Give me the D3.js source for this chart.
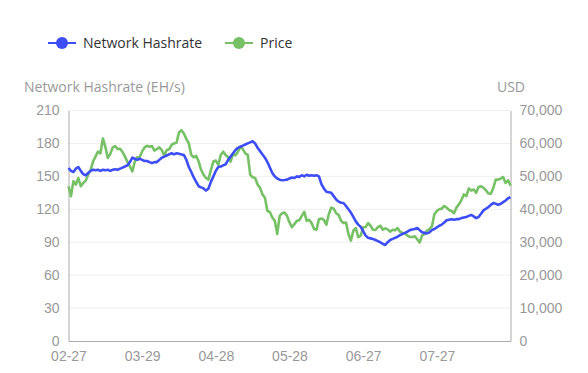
<!DOCTYPE html>
<html>
<head>
<meta charset="utf-8">
<script src="https://cdn.jsdelivr.net/npm/d3@7"></script>
<style>
  body { margin: 0; background: #fff; }
  svg { display: block; font-family: "Open Sans", "Noto Sans", sans-serif; }
</style>
</head>
<body>
<svg id="chart" width="588" height="373"></svg>
<script>
// daily series, 2021-02-27 .. 2021-08-26
const startDate = new Date(2021, 1, 27)
const endDate = new Date(2021, 7, 26)

const hashrate = [
  157.6, 155, 154, 157, 158.5, 155, 152, 151, 153, 155,
  156, 155.5, 156, 155, 156, 155.5, 156, 155, 156, 156.5,
  156, 157, 158, 159, 160, 163, 167, 166, 165, 166,
  165, 164, 164, 163, 162, 163, 163, 165, 167, 168,
  169, 170, 171, 170, 171, 170.5, 170, 169.5, 165, 158.5,
  154, 149, 145, 141, 140, 139, 137, 139, 145, 150,
  155, 158.5, 159, 160, 161, 165, 168, 171, 174, 176,
  177, 178, 179, 180, 181, 182, 180, 176, 173, 170,
  167, 163, 158, 153, 150, 148, 147, 146.5, 146.7, 147,
  148, 149, 148.5, 150, 149.5, 151, 150, 151.5, 150.5, 151,
  150.5, 151, 150, 143, 139, 136, 135.5, 135, 132, 129,
  127, 126, 125.7, 123, 120, 117, 113, 109, 106, 104,
  100, 96, 94, 93.5, 93, 92, 91, 90, 88.5, 87.5,
  90, 92, 93, 94, 95, 96.5, 97.5, 98.5, 99.5, 101,
  101.5, 102, 103, 101, 99, 98.5, 98, 99, 101, 102,
  103.5, 105, 106, 108, 110, 110.5, 111, 110.5, 111, 111,
  112, 112.5, 113, 114, 114.8, 113.5, 112, 113, 116, 119,
  120.5, 122, 124, 125.7, 125, 124, 125, 126.5, 128, 130,
  131
]

const price = [
  47000, 44000, 48500, 47500, 49500, 47000, 48000, 48700, 50500, 52000,
  54500, 56000, 57500, 57000, 61500, 59000, 55600, 56800, 58800, 59200,
  58300, 58400, 57400, 56000, 54400, 53000, 51500, 54500, 55800, 55900,
  57600, 58800, 59300, 59000, 59200, 57800, 58300, 58800, 58000, 56300,
  58000, 58200, 59600, 60000, 60200, 63300, 64000, 63000, 61300, 60000,
  56500, 55800, 56200, 54500, 52000, 50500, 49500, 49000, 52000, 54500,
  54800, 53500, 56500, 57500, 56500, 55800, 54500, 56800, 56400, 57500,
  59000, 58300, 57000, 56500, 50500, 49700, 49500, 47500, 46500, 44500,
  43500, 39500, 39200, 37500, 36500, 32500, 38000, 38800, 39000, 38000,
  36000, 34600, 35500, 36500, 36700, 38000, 39200, 36500, 36800, 35800,
  34000, 33800, 37000, 37200, 36800, 35300, 38500, 40500, 40200, 38800,
  38300, 36500, 35800, 36000, 32500, 30500, 33500, 34300, 31500, 32000,
  34500, 34600, 35800, 35000, 33800, 33700, 34600, 35000, 33800, 34200,
  33900, 33200, 33800, 33600, 34300, 33200, 32800, 32700, 32000, 31600,
  31600, 31800, 30900, 29900, 32100, 32500, 33500, 34000, 34800, 38500,
  39500, 40000, 40200, 41000, 40500, 39800, 39500, 38800, 40500, 41500,
  42800, 44500, 44000, 46300, 45700, 46000, 45000, 46800, 47000, 46500,
  45800, 44800, 44700, 46500, 49000, 49000, 49300, 49800, 48000, 48800,
  47200
]

const xTickLabels = ["02-27", "03-29", "04-28", "05-28", "06-27", "07-27"]
const leftTicks = [0, 30, 60, 90, 120, 150, 180, 210]
const rightTicks = [0, 10000, 20000, 30000, 40000, 50000, 60000, 70000]

const dates = d3.timeDays(startDate, d3.timeDay.offset(endDate, 1))
const fmt = d3.timeFormat("%m-%d")
const parse = d3.timeParse("%Y-%m-%d")
const xTickDates = xTickLabels.map(s => parse("2021-" + s))

const blue = "#3d4ef7", green = "#76c065"
const labelColor = "#999"

var svg = d3.select("#chart")
var margin = {top: 110.5, left: 68.5, right: 77.5, bottom: 32},
  width = 588 - margin.left - margin.right,
  height = 373 - margin.top - margin.bottom

var x = d3.scaleTime().domain([startDate, endDate]).range([0, width])
var yL = d3.scaleLinear().domain([0, 210]).range([height, 0])
var yR = d3.scaleLinear().domain([0, 70000]).range([height, 0])

var g = svg.append("g").attr("transform", "translate(" + margin.left + "," + margin.top + ")")

// grid
g.append("g")
  .selectAll("line")
  .data(leftTicks.slice(1))
  .enter().append("line")
  .attr("x1", 0).attr("x2", width)
  .attr("y1", d => yL(d)).attr("y2", d => yL(d))
  .attr("stroke", "#eee")

// left axis
var la = g.append("g")
  .call(d3.axisLeft(yL).tickValues(leftTicks).tickSize(0).tickPadding(9))
la.select(".domain").attr("stroke", "#aaa")
la.selectAll("text").attr("fill", labelColor).style("font-size", "14px")

// right axis
var ra = g.append("g")
  .attr("transform", "translate(" + width + ",0)")
  .call(d3.axisRight(yR).tickValues(rightTicks).tickSize(0).tickPadding(9).tickFormat(d3.format(",")))
ra.select(".domain").attr("stroke", "#aaa")
ra.selectAll("text").attr("fill", labelColor).style("font-size", "14px")

// bottom axis
var ba = g.append("g")
  .attr("transform", "translate(0," + height + ")")
  .call(d3.axisBottom(x).tickValues(xTickDates).tickFormat(fmt).tickSize(0).tickPadding(10))
ba.select(".domain").attr("stroke", "#aaa")
ba.selectAll("text").attr("fill", labelColor).style("font-size", "14px")

// axis names
svg.append("text")
  .attr("x", 24).attr("y", 92)
  .attr("fill", labelColor).style("font-size", "14px")
  .text("Network Hashrate (EH/s)")
svg.append("text")
  .attr("x", 511).attr("y", 92)
  .attr("text-anchor", "middle")
  .attr("fill", labelColor).style("font-size", "14px")
  .text("USD")

// lines
var hashLine = d3.line()
  .x((d, i) => x(dates[i]))
  .y(d => yL(d))
var priceLine = d3.line()
  .x((d, i) => x(dates[i]))
  .y(d => yR(d))

g.append("path")
  .datum(price)
  .attr("fill", "none")
  .attr("stroke", green)
  .attr("stroke-width", 2.6)
  .attr("stroke-linejoin", "round")
  .attr("d", priceLine)

g.append("path")
  .datum(hashrate)
  .attr("fill", "none")
  .attr("stroke", blue)
  .attr("stroke-width", 2.6)
  .attr("stroke-linejoin", "round")
  .attr("d", hashLine)

// legend
var legendItems = [
  {name: "Network Hashrate", color: blue, x: 48},
  {name: "Price", color: green, x: 225}
]
var lg = svg.append("g").selectAll("g")
  .data(legendItems)
  .enter().append("g")
  .attr("transform", d => "translate(" + d.x + ",43)")
lg.append("line")
  .attr("x1", 0).attr("x2", 28)
  .attr("stroke", d => d.color).attr("stroke-width", 2)
lg.append("circle")
  .attr("cx", 14).attr("r", 6)
  .attr("fill", d => d.color)
lg.append("text")
  .attr("x", 35).attr("dy", "0.35em")
  .attr("fill", "#333").style("font-size", "14px")
  .text(d => d.name)
</script>
</body>
</html>
